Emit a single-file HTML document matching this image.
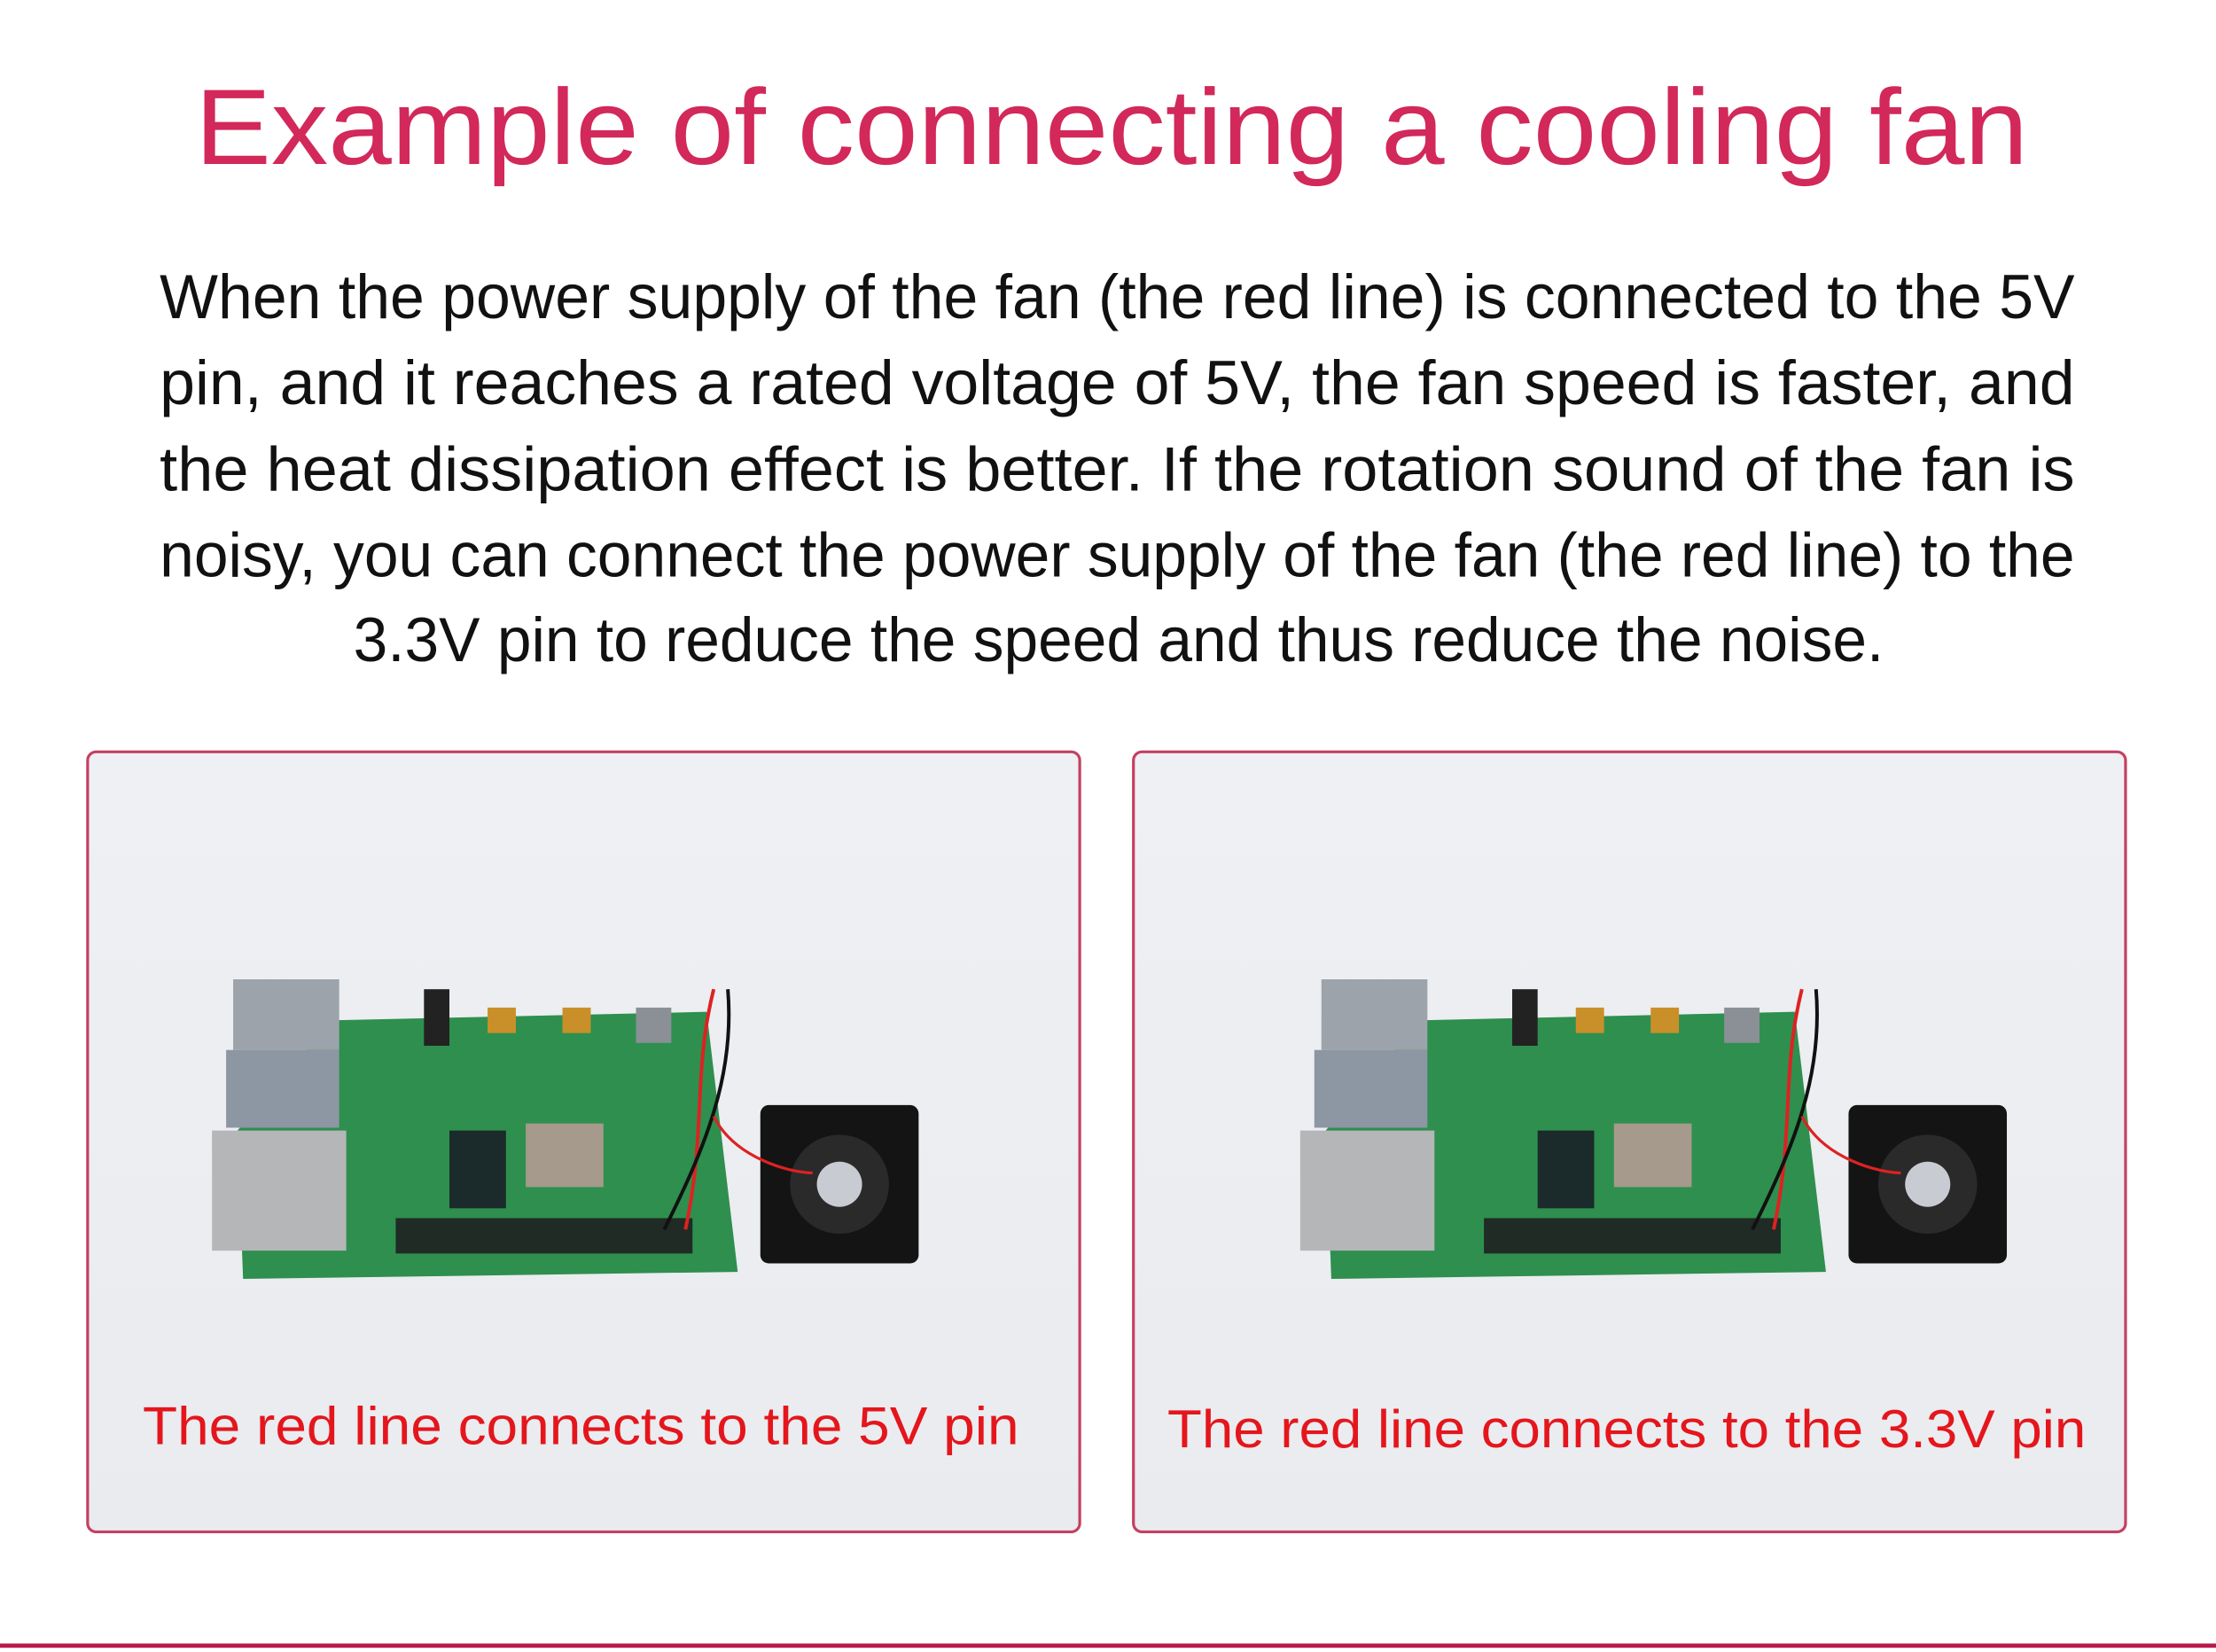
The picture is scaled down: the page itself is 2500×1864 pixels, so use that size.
<!DOCTYPE html>
<html><head><meta charset="utf-8"><style>
html,body{margin:0;padding:0;background:#fff;}
svg{display:block;}
</style></head><body>
<svg width="2500" height="1864" viewBox="0 0 1568 1169" preserveAspectRatio="none" xmlns="http://www.w3.org/2000/svg" font-family="Liberation Sans, sans-serif">
<rect width="1568" height="1169" fill="#fff"/>
<text x="138" y="116" font-size="76" fill="#d2285a" textLength="1297" lengthAdjust="spacingAndGlyphs">Example of connecting a cooling fan</text>
<g font-size="44" fill="#111">
<text x="113" y="225" textLength="1355" lengthAdjust="spacingAndGlyphs">When the power supply of the fan (the red line) is connected to the 5V</text>
<text x="113" y="286" textLength="1355" lengthAdjust="spacingAndGlyphs">pin, and it reaches a rated voltage of 5V, the fan speed is faster, and</text>
<text x="113" y="347" textLength="1355" lengthAdjust="spacingAndGlyphs">the heat dissipation effect is better.  If the rotation sound of the fan is</text>
<text x="113" y="408" textLength="1355" lengthAdjust="spacingAndGlyphs">noisy, you can connect the power supply of the fan (the red line) to the</text>
<text x="250" y="468" textLength="1083" lengthAdjust="spacingAndGlyphs">3.3V pin to reduce the speed and thus reduce the noise.</text>
</g>
<defs>
<linearGradient id="bg" x1="0" y1="0" x2="0" y2="1"><stop offset="0" stop-color="#eef0f4"/><stop offset="1" stop-color="#e9ebef"/></linearGradient>
<g id="pi">
<polygon points="235,722 500,716 522,900 172,905 168,800" fill="#2f8f4e"/>
<rect x="165" y="693" width="75" height="50" fill="#9da3aa"/>
<rect x="160" y="743" width="80" height="55" fill="#8d96a3"/>
<rect x="150" y="800" width="95" height="85" fill="#b4b6b8"/>
<rect x="318" y="800" width="40" height="55" fill="#1b2a2a"/>
<rect x="372" y="795" width="55" height="45" fill="#a59a8c"/>
<rect x="280" y="862" width="210" height="25" fill="#1f2b24"/>
<rect x="300" y="700" width="18" height="40" fill="#222"/>
<rect x="345" y="713" width="20" height="18" fill="#c9902a"/>
<rect x="398" y="713" width="20" height="18" fill="#c9902a"/>
<rect x="450" y="713" width="25" height="25" fill="#8a9096"/>
<rect x="538" y="782" width="112" height="112" rx="6" fill="#141414"/>
<circle cx="594" cy="838" r="35" fill="#2a2a2a"/>
<circle cx="594" cy="838" r="16" fill="#c8ccd2"/>
<path d="M505,700 C490,760 500,800 485,870" stroke="#d22" stroke-width="2.5" fill="none"/>
<path d="M515,700 C520,760 500,810 470,870" stroke="#111" stroke-width="2.5" fill="none"/>
<path d="M505,790 C520,820 560,830 575,830" stroke="#d22" stroke-width="2" fill="none"/>
</g>
</defs>
<rect x="62" y="532" width="702" height="552" rx="6" fill="url(#bg)" stroke="#c44062" stroke-width="2"/>
<rect x="802" y="532" width="702" height="552" rx="6" fill="url(#bg)" stroke="#c44062" stroke-width="2"/>
<use href="#pi"/>
<use href="#pi" x="770"/>
<g font-size="38" fill="#e4161c">
<text x="101" y="1022" textLength="620" lengthAdjust="spacingAndGlyphs">The red line connects to the 5V pin</text>
<text x="826" y="1024" textLength="650" lengthAdjust="spacingAndGlyphs">The red line connects to the 3.3V pin</text>
</g>
<rect x="0" y="1163" width="1568" height="3" fill="#b8194a"/>
</svg>
</body></html>
